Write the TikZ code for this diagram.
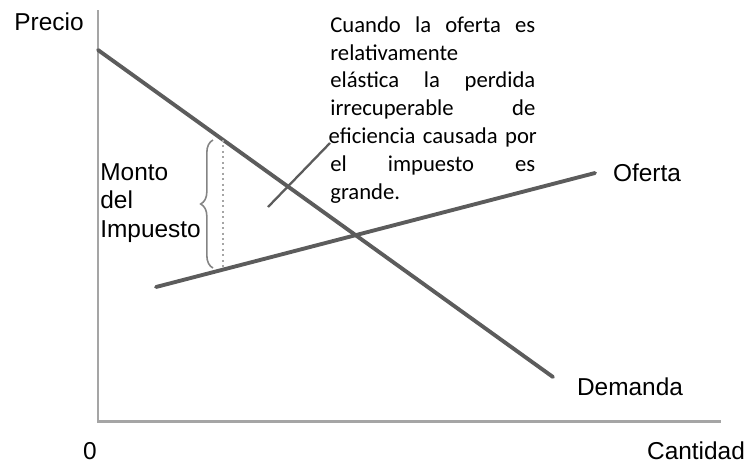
\documentclass[tikz,border=0pt]{standalone}
\usepackage{fontspec}
\setmainfont{Liberation Sans}
\newfontfamily\notefont{Carlito}
\usetikzlibrary{decorations.pathreplacing}
\begin{document}
\begin{tikzpicture}[x=0.02cm,y=-0.02cm]
    \definecolor{curve_gray}{RGB}{92,92,92}
    \definecolor{axis_gray}{RGB}{165,165,165}
    \tikzset{curve/.style={draw=curve_gray,line width=2.2pt,line cap=round},
      axisline/.style={draw=axis_gray,line width=1.7pt},
      lbl/.style={font=\fontsize{13.9}{16.4}\selectfont,inner sep=0pt}}
    \useasboundingbox (0,0) rectangle (749,464);
    \coordinate (ytop) at (98,10);
    \coordinate (orig) at (98,421);
    \coordinate (xend) at (721,421);
    \draw[axisline] (ytop) -- (orig) -- (xend);
    \coordinate (dem_a) at (98,50);
    \coordinate (dem_b) at (553,377);
    \coordinate (sup_a) at (156,287);
    \coordinate (sup_b) at (595,173);
    \draw[curve] (dem_a) -- (dem_b);
    \draw[curve] (sup_a) -- (sup_b);
    \coordinate (tax_top) at (223,140);
    \coordinate (tax_bot) at (223,269);
    \draw[axis_gray,line width=1.1pt,dotted] (tax_top) -- (tax_bot);
    \coordinate (br_bot) at (213,268);
    \coordinate (br_top) at (213,140);
    \draw[axis_gray!80!black,line width=0.9pt,decorate,decoration={brace,amplitude=7pt}] (br_bot) -- (br_top);
    \node[lbl,anchor=center] (precio) at (49,21.5) {Precio};
    \node[lbl,anchor=west,align=left] (monto) at (100,203) {Monto\\del\\Impuesto};
    \node[lbl,anchor=center] (oferta) at (647,173) {Oferta};
    \node[lbl,anchor=center] (demanda) at (630,387) {Demanda};
    \node[lbl,anchor=center] (cantidad) at (696,451) {Cantidad};
    \node[lbl,anchor=center] (cero) at (90,451) {0};
    \node[inner sep=0pt,anchor=north west,text width=4.1cm,align=left,font=\notefont\fontsize{12.9}{15.9}\selectfont] (nota) at (330,16) {\makebox[4.1cm]{Cuando \hfill la \hfill oferta \hfill es}\\
relativamente\\
\makebox[4.1cm]{elástica \hfill la \hfill perdida}\\
\makebox[4.1cm]{irrecuperable \hfill de}\\
\makebox[4.1cm]{eficiencia \hfill causada \hfill por}\\
\makebox[4.1cm]{el \hfill impuesto \hfill es}\\
grande.};
    \coordinate (ptr_a) at (268,207);
    \coordinate (ptr_b) at (330,143);
    \draw[curve_gray,line width=1.3pt] (ptr_a) -- (ptr_b);
\end{tikzpicture}
\end{document}
